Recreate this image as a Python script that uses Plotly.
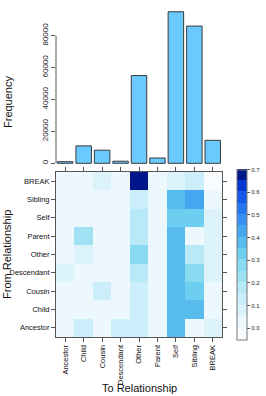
import plotly.graph_objects as go

W, H = 266, 396

relationships = ["Ancestor", "Child", "Cousin", "Descendant", "Other",
                 "Parent", "Self", "Sibling", "BREAK"]

# Frequency of each "To" relationship (top bar chart)
frequency = [1000, 10900, 8200, 1300, 55000, 3300, 95000, 86000, 14400]

# Transition proportions: one list per "From" relationship,
# values in the order of the "To" relationships above
from_ancestor   = [0.02, 0.12, 0.02, 0.15, 0.15, 0.02, 0.37, 0.02, 0.08]
from_child      = [0.02, 0.02, 0.02, 0.02, 0.12, 0.02, 0.37, 0.37, 0.02]
from_cousin     = [0.02, 0.02, 0.12, 0.02, 0.11, 0.02, 0.37, 0.32, 0.02]
from_descendant = [0.07, 0.02, 0.02, 0.02, 0.17, 0.02, 0.37, 0.27, 0.07]
from_other      = [0.02, 0.07, 0.02, 0.02, 0.27, 0.02, 0.37, 0.17, 0.07]
from_parent     = [0.02, 0.22, 0.02, 0.02, 0.17, 0.02, 0.37, 0.02, 0.07]
from_self       = [0.02, 0.02, 0.02, 0.02, 0.17, 0.02, 0.32, 0.32, 0.07]
from_sibling    = [0.02, 0.02, 0.02, 0.02, 0.12, 0.02, 0.37, 0.42, 0.03]
from_break      = [0.02, 0.02, 0.07, 0.02, 0.68, 0.02, 0.08, 0.12, 0.00]

proportions = [from_ancestor, from_child, from_cousin, from_descendant,
               from_other, from_parent, from_self, from_sibling, from_break]

bar_ticks = [0, 20000, 40000, 60000, 80000]
bar_tick_labels = ["0", "20000", "40000", "60000", "80000"]
cb_ticks = [0.0, 0.1, 0.2, 0.3, 0.4, 0.5, 0.6, 0.7]
cb_tick_labels = ["0.0", "0.1", "0.2", "0.3", "0.4", "0.5", "0.6", "0.7"]

# stepped colour scale, 15 bands from -0.05 to 0.70
band_colors = ["#F8FCFF", "#ECF8FE", "#DDF3FC", "#CCEEFB", "#B8E9F7",
               "#A0E2F4", "#88DAF1", "#6ECEF0", "#57BBEE", "#45A7F0",
               "#3690F2", "#2676F2", "#1558EC", "#0836D0", "#02168C"]
zmin, zmax = -0.05, 0.70
n = len(band_colors)
colorscale = []
for i, c in enumerate(band_colors):
    lo = i / n + (0.002 if i > 0 else 0)
    hi = (i + 1) / n + (0.002 if i < n - 1 else 0)
    colorscale.append([lo, c])
    colorscale.append([min(hi, 1.0), c])

def px_x(p):
    return p / W

def px_y(p):
    return 1 - p / H

FONT = "Liberation Sans, Arial, sans-serif"
AX = "#555555"

fig = go.Figure()

fig.add_trace(go.Bar(
    x=relationships, y=frequency, xaxis="x", yaxis="y",
    marker=dict(color="#6AC9FF", line=dict(color="#3a3a3a", width=1)),
    width=0.84, showlegend=False,
))

fig.add_trace(go.Heatmap(
    x=relationships, y=relationships, z=proportions,
    xaxis="x2", yaxis="y2",
    zmin=zmin, zmax=zmax, colorscale=colorscale,
    colorbar=dict(
        x=px_x(237), xanchor="left", xpad=0,
        y=px_y(254.5), yanchor="middle", ypad=0,
        len=169.6 / H, lenmode="fraction", thickness=10,
        outlinewidth=1, outlinecolor="#777777",
        tickmode="array", tickvals=cb_ticks, ticktext=cb_tick_labels,
        ticks="outside", ticklen=3, tickcolor=AX,
        tickfont=dict(size=6, color="#222222", family=FONT),
    ),
))

x_domain = [px_x(56), px_x(222)]

fig.update_layout(
    width=W, height=H, autosize=False,
    margin=dict(l=0, r=0, t=0, b=0, autoexpand=False),
    paper_bgcolor="white", plot_bgcolor="white",
    font=dict(family=FONT, color="#111111"),
    xaxis=dict(domain=x_domain, anchor="y", type="category",
               range=[-0.5, 8.5], showticklabels=False, ticks="",
               showline=False, showgrid=False, zeroline=False,
               automargin=False),
    yaxis=dict(domain=[px_y(166), px_y(6)], anchor="x",
               range=[-1700, 98600], tickmode="array", tickvals=bar_ticks,
               ticktext=bar_tick_labels,
               ticks="outside", ticklen=4, tickcolor=AX, tickangle=-90,
               tickfont=dict(size=8, color="#222222"),
               showline=False, showgrid=False, zeroline=False,
               automargin=False),
    xaxis2=dict(domain=x_domain, anchor="y2", type="category",
                range=[-0.5, 8.5], tickangle=-90,
                ticks="outside", ticklen=4, tickcolor=AX,
                showline=True, linecolor=AX, linewidth=1, mirror="ticks",
                tickfont=dict(size=7.5, color="#111111"),
                showgrid=False, zeroline=False, automargin=False),
    yaxis2=dict(domain=[px_y(337), px_y(172)], anchor="x2", type="category",
                range=[-0.5, 8.5],
                ticks="outside", ticklen=4, tickcolor=AX,
                showline=True, linecolor=AX, linewidth=1, mirror="ticks",
                tickfont=dict(size=7.5, color="#111111"),
                showgrid=False, zeroline=False, automargin=False),
    shapes=[dict(type="line", xref="paper", yref="y",
                 x0=px_x(56), x1=px_x(56), y0=0, y1=80000,
                 line=dict(color=AX, width=1))],
    annotations=[
        dict(text="Frequency", xref="paper", yref="paper",
             x=px_x(8), y=px_y(102), xanchor="center", yanchor="middle",
             textangle=-90, showarrow=False,
             font=dict(size=11, color="#111111")),
        dict(text="From Relationship", xref="paper", yref="paper",
             x=px_x(7), y=px_y(255), xanchor="center", yanchor="middle",
             textangle=-90, showarrow=False,
             font=dict(size=11, color="#111111")),
        dict(text="To Relationship", xref="paper", yref="paper",
             x=px_x(139), y=px_y(388), xanchor="center", yanchor="middle",
             showarrow=False,
             font=dict(size=11, color="#111111")),
    ],
)

fig.write_html("out.html",
               config={"displayModeBar": False, "staticPlot": True},
               post_script="document.body.style.margin='0px';"
                           "document.body.style.overflow='hidden';")
